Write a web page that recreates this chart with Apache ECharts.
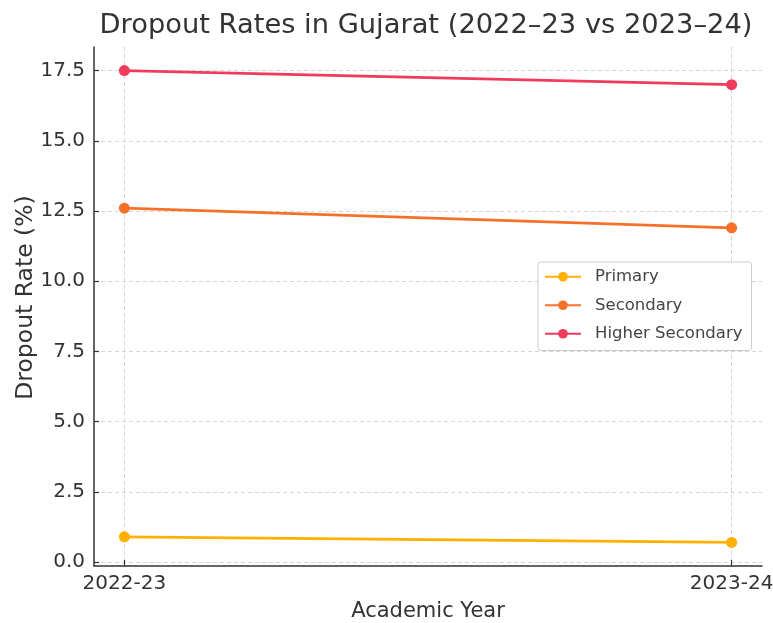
<!DOCTYPE html>
<html>
<head>
<meta charset="utf-8">
<script src="https://cdn.jsdelivr.net/npm/echarts@6/dist/echarts.min.js"></script>
<style>
  html, body { margin: 0; padding: 0; background: #fff; }
  #chart { width: 773px; height: 623px; }
</style>
</head>
<body>
<div id="chart"></div>
<script>
const years = ['2022-23', '2023-24'];
const primary = [0.9, 0.7];
const secondary = [12.6, 11.9];
const higherSecondary = [17.5, 17.0];
const yTicks = [0, 2.5, 5, 7.5, 10, 12.5, 15, 17.5];
const xTicks = [0, 1];

const FONT = 'DejaVu Sans';
const chart = echarts.init(document.getElementById('chart'), null, { renderer: 'canvas' });

function toPoints(arr) { return arr.map((v, i) => [i, v]); }

function mkSeries(name, data, color) {
  return {
    name: name,
    type: 'line',
    data: toPoints(data),
    symbol: 'circle',
    symbolSize: 11,
    showSymbol: true,
    lineStyle: { color: color, width: 2.7 },
    itemStyle: { color: color },
    emphasis: { disabled: true },
    animation: false
  };
}

chart.setOption({
  backgroundColor: '#ffffff',
  animation: false,
  title: {
    text: 'Dropout Rates in Gujarat (2022\u201323 vs 2023\u201324)',
    left: 421,
    textAlign: 'center',
    top: 7,
    textStyle: { fontFamily: FONT, fontSize: 27.3, fontWeight: 'normal', color: '#333333' }
  },
  grid: { left: 94, right: 11, top: 47, bottom: 57, containLabel: false, outerBoundsMode: 'none' },
  legend: {
    left: 538,
    top: 262,
    orient: 'vertical',
    backgroundColor: '#ffffff',
    borderColor: '#cccccc',
    borderWidth: 1,
    borderRadius: 3,
    padding: [6, 9, 8, 6],
    itemWidth: 36,
    itemHeight: 12,
    itemGap: 11,
    textStyle: { fontFamily: FONT, fontSize: 16.5, color: '#444444', lineHeight: 17.5, padding: [0, 0, 0, 9] },
    data: ['Primary', 'Secondary', 'Higher Secondary']
  },
  xAxis: {
    type: 'value',
    min: -0.05,
    max: 1.05,
    name: 'Academic Year',
    nameLocation: 'middle',
    nameGap: 35,
    nameMoveOverlap: false,
    nameTextStyle: { fontFamily: FONT, fontSize: 21, color: '#333333' },
    axisLine: { onZero: false, lineStyle: { color: '#333333', width: 1.5 } },
    axisTick: { show: true, inside: true, length: 6, customValues: xTicks, lineStyle: { color: '#333333', width: 1.2 } },
    axisLabel: {
      customValues: xTicks,
      margin: 8,
      fontFamily: FONT, fontSize: 20, color: '#333333',
      formatter: v => years[Math.round(v)]
    },
    splitLine: { show: true, lineStyle: { color: '#cccccc', type: [4, 3], width: 0.8 } }
  },
  yAxis: {
    type: 'value',
    min: -0.14,
    max: 18.34,
    name: 'Dropout Rate (%)',
    nameLocation: 'middle',
    nameRotate: 90,
    nameGap: 56,
    nameMoveOverlap: false,
    nameTextStyle: { fontFamily: FONT, fontSize: 23.5, color: '#333333', padding: [0, 0, 0, 18] },
    axisLine: { show: true, onZero: false, lineStyle: { color: '#333333', width: 1.5 } },
    axisTick: { show: true, inside: true, length: 5, customValues: yTicks, lineStyle: { color: '#333333', width: 1.2 } },
    axisLabel: {
      customValues: yTicks,
      margin: 9,
      fontFamily: FONT, fontSize: 20, color: '#333333',
      formatter: v => Number(v).toFixed(1)
    },
    splitLine: { show: true, lineStyle: { color: '#cccccc', type: [4, 3], width: 0.8 } }
  },
  series: [
    mkSeries('Primary', primary, '#FFB000'),
    mkSeries('Secondary', secondary, '#F7702A'),
    mkSeries('Higher Secondary', higherSecondary, '#F23A5C')
  ]
});
</script>
</body>
</html>
